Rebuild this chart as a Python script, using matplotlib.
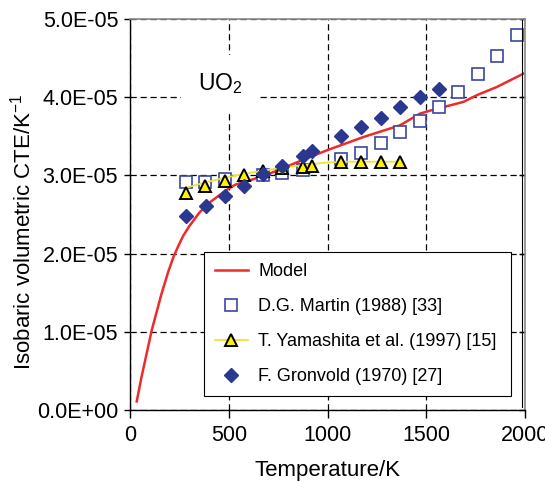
import numpy as np
import matplotlib
matplotlib.use("Agg")
import matplotlib.pyplot as plt
from matplotlib.ticker import FuncFormatter, MultipleLocator

plt.rcParams["font.family"] = "Liberation Sans"
plt.rcParams["mathtext.fontset"] = "custom"
plt.rcParams["mathtext.rm"] = "Liberation Sans"
plt.rcParams["mathtext.it"] = "Liberation Sans:italic"

# model curve (T [K], CTE [1e-5 /K])
model_t = [34, 59, 110, 160, 194, 219, 245, 270, 300, 350, 396, 481, 532, 675,
           877, 996, 1181, 1367, 1468, 1536, 1688, 1760, 1857, 1991]
model_cte = [0.11, 0.43, 1.02, 1.49, 1.77, 1.95, 2.10, 2.23, 2.35, 2.52, 2.64,
             2.80, 2.88, 2.99, 3.20, 3.32, 3.49, 3.64, 3.79, 3.84, 3.94, 4.03,
             4.13, 4.30]

# D.G. Martin (1988)
martin_t = [282, 380, 481, 675, 771, 874, 1068, 1170, 1269, 1367, 1468, 1565,
            1662, 1761, 1860, 1958]
martin_cte = [2.92, 2.92, 2.95, 3.00, 3.03, 3.07, 3.21, 3.29, 3.41, 3.55, 3.70,
              3.88, 4.07, 4.30, 4.53, 4.79]

# T. Yamashita et al. (1997): points and fitted line
yama_t = [282, 380, 481, 577, 675, 771, 874, 923, 1068, 1170, 1269, 1367]
yama_cte = [2.78, 2.86, 2.93, 3.00, 3.06, 3.09, 3.11, 3.12, 3.17, 3.17, 3.17, 3.17]
yama_fit_t = [282, 380, 481, 577, 675, 771, 874, 996, 1100, 1200, 1367]
yama_fit_cte = [2.84, 2.91, 2.97, 3.02, 3.06, 3.10, 3.13, 3.165, 3.175, 3.175, 3.175]

# F. Gronvold (1970)
gron_t = [282, 383, 481, 577, 675, 771, 874, 923, 1068, 1170, 1269, 1367, 1468, 1565]
gron_cte = [2.48, 2.61, 2.74, 2.87, 3.02, 3.12, 3.25, 3.31, 3.50, 3.62, 3.74,
            3.87, 4.00, 4.11]

scale = 1e-5

fig = plt.figure(figsize=(5.45, 4.82), dpi=100)
ax = fig.add_axes([130 / 545, 1 - 410 / 482, 395 / 545, 391 / 482])

ax.plot(model_t, np.array(model_cte) * scale, color="#ee2a2a", lw=1.8, label="Model")
ax.plot(martin_t, np.array(martin_cte) * scale, ls="none", marker="s", ms=8,
        mfc="white", mec="#3a47a3", mew=1.2, label="D.G. Martin (1988) [33]")
ax.plot(yama_fit_t, np.array(yama_fit_cte) * scale, color="#f2e22e", lw=1.3)
ax.plot(yama_t, np.array(yama_cte) * scale, ls="none", marker="^", ms=9,
        mfc="#fff200", mec="black", mew=1.4)
ax.plot(gron_t, np.array(gron_cte) * scale, ls="none", marker="D", ms=7.5,
        mfc="#2b3890", mec="#2b3890", label="F. Gronvold (1970) [27]")

# legend handle for Yamashita: line + triangle
yama_handle, = ax.plot([], [], color="#f2e22e", lw=1.3, marker="^", ms=9,
                       mfc="#fff200", mec="black", mew=1.4)

ax.set_xlim(0, 2000)
ax.set_ylim(0, 5e-5)
ax.xaxis.set_major_locator(MultipleLocator(500))
ax.yaxis.set_major_locator(MultipleLocator(1e-5))
ax.yaxis.set_major_formatter(FuncFormatter(lambda v, p: f"{v:.1E}"))

ax.grid(True, color="black", lw=0.9, ls=(0, (5, 3)))
ax.axvline(1983, ymin=0.008, ymax=1, color="black", lw=0.8)

for s in ["top", "right"]:
    ax.spines[s].set_color("#8a8a8a")
    ax.spines[s].set_linewidth(1.2)
ax.spines["left"].set_linewidth(1.0)
ax.spines["bottom"].set_linewidth(1.0)

ax.tick_params(axis="both", labelsize=15.5, width=1)
ax.tick_params(axis="x", direction="out", length=6, pad=5)
ax.tick_params(axis="y", direction="out", length=4.5, pad=4, right=True)
for t in ax.yaxis.get_ticklines()[1::2]:
    t.set_marker(matplotlib.markers.TICKLEFT)
    t.set_markersize(4)

ax.set_xlabel("Temperature/K", fontsize=16, labelpad=10)
ax.set_ylabel("Isobaric volumetric CTE/K$^{-1}$", fontsize=16)
ax.yaxis.set_label_coords(-0.24, 0.455)

ax.text(458, 4.17e-5, "UO$_2$", fontsize=16.5, ha="center", va="center",
        bbox=dict(facecolor="white", edgecolor="none", pad=12), zorder=3)

handles, labels = ax.get_legend_handles_labels()
order = [handles[0], handles[1], yama_handle, handles[2]]
names = ["Model", "D.G. Martin (1988) [33]", "T. Yamashita et al. (1997) [15]",
         "F. Gronvold (1970) [27]"]
leg = ax.legend(order, names, loc="lower left", mode="expand",
                bbox_to_anchor=(0.188, 0.036, 0.777, 0.371), fontsize=13,
                fancybox=False, framealpha=1, edgecolor="black",
                handlelength=1.8, handletextpad=0.6, labelspacing=1.0,
                borderpad=0.6, borderaxespad=0)
leg.get_frame().set_linewidth(0.8)

fig.savefig("out.png", dpi=100)
